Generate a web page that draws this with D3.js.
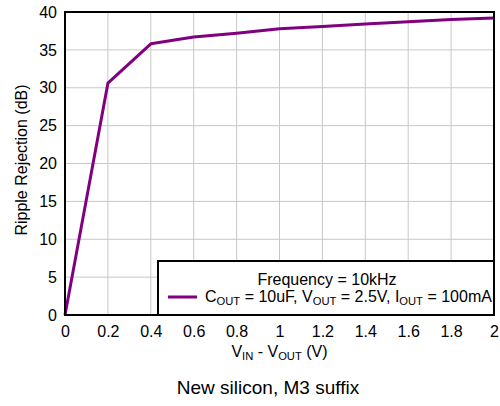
<!DOCTYPE html>
<html>
<head>
<meta charset="utf-8">
<script src="https://cdn.jsdelivr.net/npm/d3@7"></script>
<style>
  body { margin: 0; background: #fff; }
  svg { font-family: "Liberation Sans", Arial, sans-serif; }
</style>
</head>
<body>
<svg id="chart" width="500" height="406"></svg>
<script>
// data
var vdrop = [0, 0.2, 0.4, 0.6, 0.8, 1.0, 1.2, 1.4, 1.6, 1.8, 2.0];
var rejection = [0, 30.6, 35.8, 36.7, 37.2, 37.8, 38.1, 38.4, 38.7, 39.0, 39.2];
var xTicks = [0, 0.2, 0.4, 0.6, 0.8, 1, 1.2, 1.4, 1.6, 1.8, 2];
var yTicks = [0, 5, 10, 15, 20, 25, 30, 35, 40];

var M = { left: 65, right: 494, top: 12, bottom: 315 };
var FS = 16;

var svg = d3.select("#chart");

var x = d3.scaleLinear().domain([0, 2]).range([M.left, M.right]);
var y = d3.scaleLinear().domain([0, 40]).range([M.bottom, M.top]);

// text with subscripts: parts = [[text, isSub], ...]
function subText(sel, parts, size) {
    var prevSub = false;
    parts.forEach(function(p) {
        if (p[1]) {
            sel.append("tspan").attr("font-size", size * 0.7).attr("dy", 3).text(p[0]);
        } else {
            sel.append("tspan").attr("dy", prevSub ? -3 : 0).text(p[0]);
        }
        prevSub = p[1];
    });
}

// grid
var grid = svg.append("g").attr("class", "grid");
grid.selectAll("line.v").data(xTicks).enter().append("line")
    .attr("x1", function(d) { return x(d); })
    .attr("x2", function(d) { return x(d); })
    .attr("y1", M.top).attr("y2", M.bottom)
    .attr("stroke", "#c8c8c8").attr("stroke-width", 1);
grid.selectAll("line.h").data(yTicks).enter().append("line")
    .attr("y1", function(d) { return y(d); })
    .attr("y2", function(d) { return y(d); })
    .attr("x1", M.left).attr("x2", M.right)
    .attr("stroke", "#c8c8c8").attr("stroke-width", 1);

// axes (labels only, frame drawn separately)
var xAxis = svg.append("g")
    .attr("transform", "translate(0," + M.bottom + ")")
    .call(d3.axisBottom(x).tickValues(xTicks).tickSize(0).tickPadding(11)
        .tickFormat(function(d) { return String(d); }));
var yAxis = svg.append("g")
    .attr("transform", "translate(" + M.left + ",0)")
    .call(d3.axisLeft(y).tickValues(yTicks).tickSize(0).tickPadding(8));
[xAxis, yAxis].forEach(function(a) {
    a.select(".domain").remove();
    a.selectAll("text").attr("font-size", FS).attr("fill", "#000")
        .attr("font-family", "Liberation Sans, Arial, sans-serif");
});

// curve
var line = d3.line()
    .x(function(d, i) { return x(vdrop[i]); })
    .y(function(d) { return y(d); });
svg.append("path")
    .datum(rejection)
    .attr("d", line)
    .attr("fill", "none")
    .attr("stroke", "#800080")
    .attr("stroke-width", 3)
    .attr("stroke-linejoin", "round");

// legend box
var lg = svg.append("g");
lg.append("rect")
    .attr("x", 158).attr("y", 261)
    .attr("width", M.right - 158).attr("height", M.bottom - 261)
    .attr("fill", "#fff").attr("stroke", "#000").attr("stroke-width", 2);
lg.append("text")
    .attr("x", 327).attr("y", 285)
    .attr("text-anchor", "middle").attr("font-size", FS)
    .text("Frequency = 10kHz");
lg.append("line")
    .attr("x1", 168).attr("x2", 197).attr("y1", 297).attr("y2", 297)
    .attr("stroke", "#800080").attr("stroke-width", 3);
var t2 = lg.append("text").attr("x", 205).attr("y", 302).attr("font-size", FS);
subText(t2, [["C", 0], ["OUT", 1], [" = 10uF, V", 0], ["OUT", 1],
    [" = 2.5V, I", 0], ["OUT", 1], [" = 100mA", 0]], FS);

// plot frame
svg.append("rect")
    .attr("x", M.left).attr("y", M.top)
    .attr("width", M.right - M.left).attr("height", M.bottom - M.top)
    .attr("fill", "none").attr("stroke", "#000").attr("stroke-width", 2);

// axis titles
var xt = svg.append("text")
    .attr("x", (M.left + M.right) / 2).attr("y", 357)
    .attr("text-anchor", "middle").attr("font-size", FS);
subText(xt, [["V", 0], ["IN", 1], [" - V", 0], ["OUT", 1], [" (V)", 0]], FS);

svg.append("text")
    .attr("transform", "translate(27,160) rotate(-90)")
    .attr("text-anchor", "middle").attr("font-size", FS)
    .text("Ripple Rejection (dB)");

svg.append("text")
    .attr("x", 268).attr("y", 394)
    .attr("text-anchor", "middle").attr("font-size", 19)
    .text("New silicon, M3 suffix");
</script>
</body>
</html>
